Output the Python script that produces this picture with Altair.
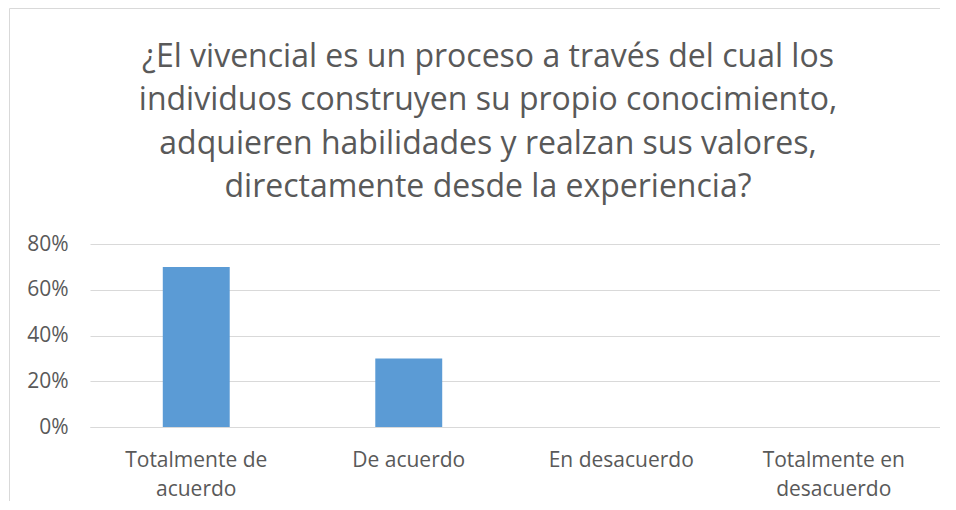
import altair as alt
import pandas as pd

categories = ["Totalmente de acuerdo", "De acuerdo", "En desacuerdo", "Totalmente en desacuerdo"]
wrapped = [["Totalmente de", "acuerdo"], ["De acuerdo"], ["En desacuerdo"], ["Totalmente en", "desacuerdo"]]
values = [0.70, 0.30, 0.0, 0.0]
y_ticks = [0, 0.2, 0.4, 0.6, 0.8]
title_lines = [
    "¿El vivencial es un proceso a través del cual los",
    "individuos construyen su propio conocimiento,",
    "adquieren habilidades y realzan sus valores,",
    "directamente desde la experiencia?",
]

df = pd.DataFrame({"cat": categories, "val": values})

label_expr = " : ".join(
    f"datum.label == '{c}' ? {w!r}" for c, w in zip(categories, wrapped)
) + " : datum.label"

FONT = "Open Sans"
GREY = "#595959"
BORDER = "#d9d9d9"

bars = alt.Chart(df).mark_bar(color="#5B9BD5", width=alt.RelativeBandSize(0.315)).encode(
    x=alt.X("cat:N", sort=categories, title=None,
            scale=alt.Scale(paddingInner=0, paddingOuter=0),
            axis=alt.Axis(labelAngle=0, labelExpr=label_expr, labelFontSize=21,
                          labelColor=GREY, labelFont=FONT, labelLineHeight=29,
                          labelPadding=22, ticks=False, domain=True,
                          domainColor=BORDER, grid=False, labelBaseline="top")),
    y=alt.Y("val:Q", title=None,
            scale=alt.Scale(domain=[0, 0.8], nice=False),
            axis=alt.Axis(values=y_ticks, format=".0%", labelFontSize=21,
                          labelColor=GREY, labelFont=FONT, labelPadding=22,
                          ticks=False, domain=False, gridColor=BORDER,
                          gridWidth=1)),
)

one = pd.DataFrame({"a": [0]})
top_rule = alt.Chart(one).mark_rule(color=BORDER, strokeWidth=1).encode(
    x=alt.value(-80.5), x2=alt.value(850), y=alt.value(-235.5),
)
left_rule = alt.Chart(one).mark_rule(color=BORDER, strokeWidth=1).encode(
    x=alt.value(-80.5), y=alt.value(-235.5), y2=alt.value(260),
)

chart = alt.layer(top_rule, left_rule, bars).properties(
    width=850, height=183,
    padding={"left": 82, "top": 236, "right": 0, "bottom": 74},
    autosize=alt.AutoSizeParams(type="none"),
    title=alt.TitleParams(
        text=title_lines, fontSize=32, font=FONT, color=GREY, fontWeight="normal",
        anchor="middle", dx=-27, offset=-196, lineHeight=43.5, frame="group",
    ),
).configure_view(stroke=None)

chart.save("out.html", embed_options={"renderer": "svg", "actions": False})
